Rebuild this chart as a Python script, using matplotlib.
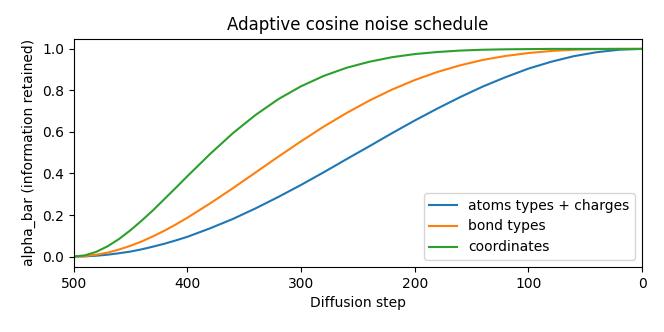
import numpy as np
import matplotlib
matplotlib.use("Agg")
import matplotlib.pyplot as plt

# diffusion step (x axis runs from 500 down to 0), denser where curves bend most
steps = [500, 490, 480, 470, 460, 450, 440, 430, 420, 410, 400, 380, 360, 340,
         320, 300, 280, 260, 240, 220, 200, 180, 160, 140, 120, 100, 80, 60,
         40, 20, 0]

# alpha_bar, one value per step above
atoms_charges = [0.0, 0.001, 0.004, 0.009, 0.016, 0.024, 0.035, 0.048, 0.062,
                 0.078, 0.095, 0.136, 0.181, 0.232, 0.287, 0.345, 0.406, 0.469,
                 0.531, 0.594, 0.655, 0.713, 0.768, 0.819, 0.864, 0.905, 0.938,
                 0.965, 0.984, 0.996, 1.0]
bond_types = [0.0, 0.002, 0.009, 0.019, 0.034, 0.052, 0.073, 0.098, 0.125,
              0.155, 0.187, 0.256, 0.329, 0.405, 0.481, 0.555, 0.626, 0.691,
              0.751, 0.804, 0.850, 0.889, 0.921, 0.947, 0.966, 0.980, 0.990,
              0.996, 0.999, 1.0, 1.0]
coordinates = [0.0, 0.006, 0.023, 0.050, 0.085, 0.127, 0.174, 0.224, 0.278,
               0.332, 0.387, 0.494, 0.594, 0.682, 0.758, 0.820, 0.870, 0.909,
               0.938, 0.960, 0.975, 0.985, 0.992, 0.996, 0.998, 0.999, 1.0,
               1.0, 1.0, 1.0, 1.0]

labels = ['atoms types + charges', 'bond types', 'coordinates']

fig, ax = plt.subplots(figsize=(6.64, 3.32), dpi=100)
fig.subplots_adjust(left=0.111, right=0.967, bottom=0.196, top=0.884)

ax.plot(steps, atoms_charges, color='#1f77b4', linewidth=1.5, label=labels[0])
ax.plot(steps, bond_types, color='#ff7f0e', linewidth=1.5, label=labels[1])
ax.plot(steps, coordinates, color='#2ca02c', linewidth=1.5, label=labels[2])

ax.set_xlim(500, 0)
ax.set_ylim(-0.05, 1.05)
ax.set_xticks([500, 400, 300, 200, 100, 0])
ax.set_yticks([0.0, 0.2, 0.4, 0.6, 0.8, 1.0])

ax.set_title('Adaptive cosine noise schedule', fontsize=12)
ax.set_xlabel('Diffusion step')
ax.set_ylabel('alpha_bar (information retained)')
ax.legend(loc='lower right')

plt.savefig('out.png', dpi=100)
